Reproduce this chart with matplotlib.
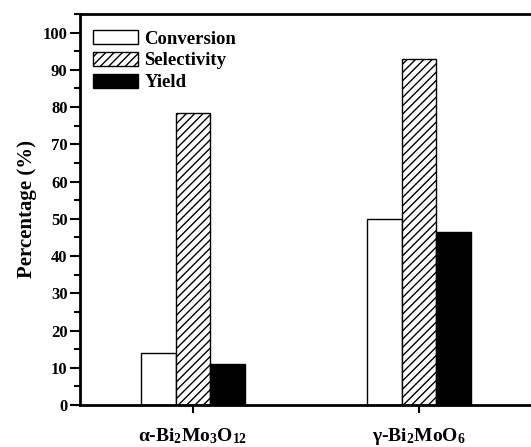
import matplotlib
matplotlib.use("Agg")
import matplotlib.pyplot as plt
import numpy as np
from matplotlib.ticker import MultipleLocator

categories = ['α-Bi$_\\mathbf{2}$Mo$_\\mathbf{3}$O$_\\mathbf{12}$', 'γ-Bi$_\\mathbf{2}$MoO$_\\mathbf{6}$']
series_names = ['Conversion', 'Selectivity', 'Yield']
conversion = [14.0, 50.0]
selectivity = [78.5, 93.0]
yield_ = [11.0, 46.5]
y_ticks = [0, 10, 20, 30, 40, 50, 60, 70, 80, 90, 100]

plt.rcParams['font.family'] = ['Liberation Serif', 'DejaVu Serif']
plt.rcParams['font.weight'] = 'bold'
plt.rcParams['mathtext.fontset'] = 'custom'
plt.rcParams['mathtext.rm'] = 'Liberation Serif:bold'
plt.rcParams['mathtext.bf'] = 'Liberation Serif:bold'
plt.rcParams['mathtext.it'] = 'Liberation Serif:bold:italic'
plt.rcParams['hatch.linewidth'] = 1.0

fig = plt.figure(figsize=(5.31, 4.47), dpi=100)
ax = fig.add_axes([80/531, 1-405/447, 452/531, (405-14)/447])

x = np.arange(len(categories))
w = 0.152
ax.bar(x - w, conversion, w, color='white', edgecolor='black', linewidth=1.0, label=series_names[0])
ax.bar(x, selectivity, w, color='white', edgecolor='black', linewidth=1.0, hatch='////', label=series_names[1])
ax.bar(x + w, yield_, w, color='black', edgecolor='black', linewidth=1.0, label=series_names[2])

ax.set_xlim(-0.5, 1.5)
ax.set_ylim(0, 105)
ax.set_yticks(y_ticks)
ax.yaxis.set_minor_locator(MultipleLocator(5))
ax.set_xticks(x)
ax.set_xticklabels(categories, fontsize=14, fontweight='bold')
ax.tick_params(axis='y', which='major', direction='out', length=7, width=1.5, labelsize=12, pad=2)
ax.tick_params(axis='y', which='minor', direction='out', length=4, width=1.5)
ax.tick_params(axis='x', which='major', direction='out', length=6, width=1.5, pad=9)
for s in ax.spines.values():
    s.set_linewidth(2.0)

ax.set_ylabel('Percentage (%)', fontsize=15, fontweight='bold', labelpad=4)

leg = ax.legend(loc='upper left', bbox_to_anchor=(-3/452, 1.0), frameon=False, handlelength=2.4,
                handleheight=0.8, handletextpad=0.35, labelspacing=0.22,
                borderaxespad=0.45, prop={'weight': 'bold', 'size': 13.5})

fig.savefig('out.png', dpi=100)
